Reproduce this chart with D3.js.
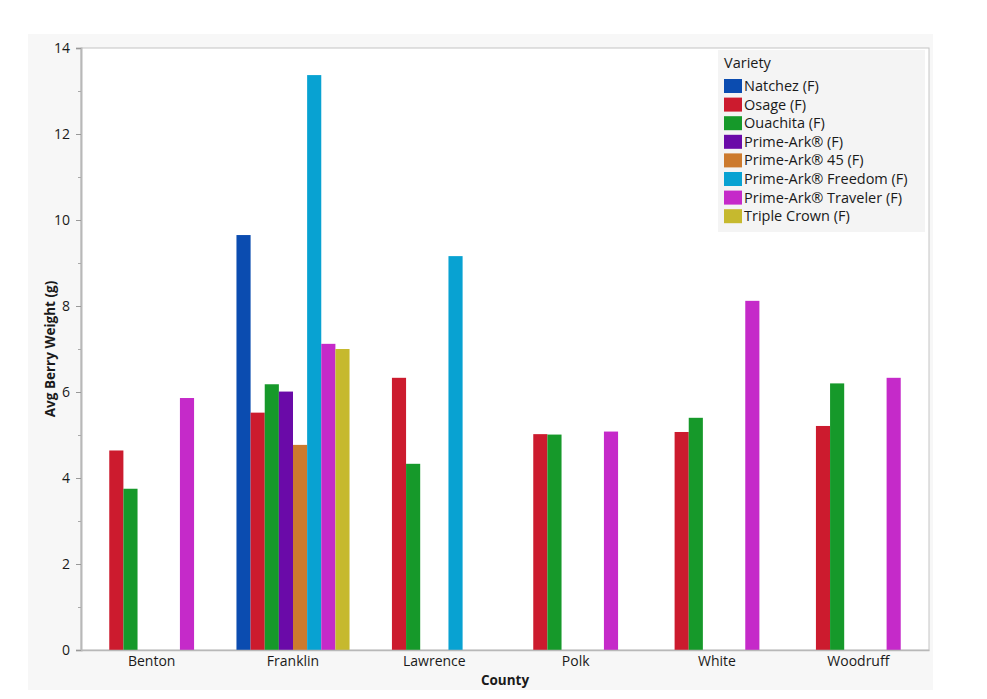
<!DOCTYPE html>
<html>
<head>
<meta charset="utf-8">
<script src="https://cdn.jsdelivr.net/npm/d3@7"></script>
<style>
  body { margin: 0; background: #fff; }
  svg text { font-family: "Open Sans", "Noto Sans", sans-serif; fill: #1a1a1a; }
</style>
</head>
<body>
<div id="chart"></div>
<script>
// Counties along the x axis
const counties = ["Benton", "Franklin", "Lawrence", "Polk", "White", "Woodruff"];

// Varieties (legend order)
const varieties = [
    "Natchez (F)", "Osage (F)", "Ouachita (F)", "Prime-Ark® (F)",
    "Prime-Ark® 45 (F)", "Prime-Ark® Freedom (F)", "Prime-Ark® Traveler (F)", "Triple Crown (F)"
];
const varietyColors = ["#0b4cb0", "#cc1b2e", "#16992a", "#6a0aa8", "#cc7a2e", "#08a2d2", "#c52ac9", "#c6b92e"];

// Average berry weight per county, one array per variety (null = no data)
const natchez   = [null, 9.65, null, null, null, null];
const osage     = [4.64, 5.52, 6.33, 5.02, 5.07, 5.21];
const ouachita  = [3.75, 6.18, 4.33, 5.01, 5.40, 6.20];
const primeArk  = [null, 6.01, null, null, null, null];
const primeArk45 = [null, 4.77, null, null, null, null];
const freedom   = [null, 13.37, 9.16, null, null, null];
const traveler  = [5.86, 7.12, null, 5.08, 8.12, 6.33];
const tripleCrown = [null, 7.00, null, null, null, null];

const seriesValues = [natchez, osage, ouachita, primeArk, primeArk45, freedom, traveler, tripleCrown];

const yTicks = [0, 2, 4, 6, 8, 10, 12, 14];

const width = 987, height = 699;
const margin = { top: 48, right: 58, bottom: 49, left: 81 };

const svg = d3.select("#chart").append("svg")
    .attr("width", width)
    .attr("height", height);

// light gray panel behind the plot
svg.append("rect")
    .attr("x", 28).attr("y", 34)
    .attr("width", 905).attr("height", 656)
    .attr("fill", "#f7f7f7");

const plotW = width - margin.left - margin.right;
const plotH = height - margin.top - margin.bottom;

const g = svg.append("g")
    .attr("transform", `translate(${margin.left},${margin.top})`);

g.append("rect")
    .attr("width", plotW).attr("height", plotH)
    .attr("fill", "#fff")
    .attr("stroke", "#c4c4c4");

const x = d3.scaleBand()
    .domain(counties)
    .range([0, plotW])
    .paddingInner(0.2)
    .paddingOuter(0.1);

const xSub = d3.scaleBand()
    .domain(varieties)
    .range([0, x.bandwidth()]);

const y = d3.scaleLinear()
    .domain([0, 14])
    .range([plotH, 0]);

// bars
const rows = [];
seriesValues.forEach((vals, i) => {
    vals.forEach((v, j) => {
        if (v != null) rows.push({ county: counties[j], variety: varieties[i], value: v, color: varietyColors[i] });
    });
});

g.selectAll(".bar")
    .data(rows)
    .enter()
    .append("rect")
    .attr("class", "bar")
    .attr("x", d => x(d.county) + xSub(d.variety))
    .attr("y", d => y(d.value))
    .attr("width", xSub.bandwidth())
    .attr("height", d => plotH - y(d.value))
    .attr("fill", d => d.color);

// y axis
const yAxis = g.append("g")
    .call(d3.axisLeft(y).tickValues(yTicks).tickSize(5).tickPadding(6));
yAxis.select(".domain").attr("stroke", "#b8b8b8").attr("stroke-width", 2);
yAxis.selectAll(".tick line").attr("stroke", "#999");
yAxis.selectAll(".tick text").style("font-size", "14px");

// minor ticks
g.append("g")
    .call(d3.axisLeft(y).tickValues(d3.range(1, 14, 2)).tickSize(3).tickFormat(""))
    .call(a => a.select(".domain").remove())
    .selectAll(".tick line").attr("stroke", "#aaa");

// x axis
const xAxis = g.append("g")
    .attr("transform", `translate(0,${plotH})`)
    .call(d3.axisBottom(x).tickSize(0).tickPadding(6));
xAxis.select(".domain").attr("stroke", "#b8b8b8").attr("stroke-width", 1.5);
xAxis.selectAll(".tick text").style("font-size", "14px");

// axis titles
svg.append("text")
    .attr("transform", `translate(51,${margin.top + plotH / 2}) rotate(-90)`)
    .attr("text-anchor", "middle")
    .attr("dominant-baseline", "middle")
    .style("font-size", "13.5px")
    .style("font-weight", "bold")
    .text("Avg Berry Weight (g)");

svg.append("text")
    .attr("x", margin.left + plotW / 2)
    .attr("y", 685)
    .attr("text-anchor", "middle")
    .style("font-size", "13.5px")
    .style("font-weight", "bold")
    .text("County");

// legend
const legend = svg.append("g")
    .attr("transform", "translate(718,50)");

legend.append("rect")
    .attr("width", 207).attr("height", 182)
    .attr("fill", "#f4f4f4");

legend.append("text")
    .attr("x", 6).attr("y", 18)
    .style("font-size", "14.5px")
    .text("Variety");

const items = legend.selectAll(".item")
    .data(varieties)
    .enter()
    .append("g")
    .attr("class", "item")
    .attr("transform", (d, i) => `translate(6,${29 + i * 18.6})`);

items.append("rect")
    .attr("width", 18).attr("height", 14)
    .attr("fill", (d, i) => varietyColors[i]);

items.append("text")
    .attr("x", 20).attr("y", 12)
    .style("font-size", "14.5px")
    .text(d => d);
</script>
</body>
</html>
